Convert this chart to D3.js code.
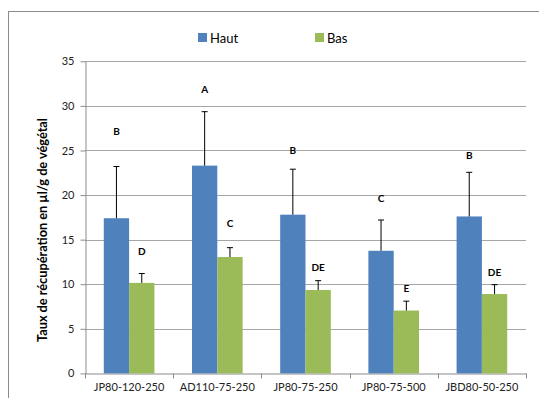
<!DOCTYPE html>
<html>
<head>
<meta charset="utf-8">
<script src="https://cdn.jsdelivr.net/npm/d3@7"></script>
<style>
  html, body { margin: 0; padding: 0; background: #fff; }
  svg { display: block; font-family: Lato, "Open Sans", sans-serif; }
</style>
</head>
<body>
<svg id="chart" width="539" height="398"></svg>
<script>
// Recovery rate per treatment, upper (Haut) and lower (Bas) parts
const categories = ["JP80-120-250", "AD110-75-250", "JP80-75-250", "JP80-75-500", "JBD80-50-250"];
const seriesNames = ["Haut", "Bas"];
const hautValues = [17.4, 23.3, 17.8, 13.75, 17.6];
const basValues  = [10.15, 13.05, 9.35, 7.05, 8.9];
const hautErrors = [5.8, 6.05, 5.1, 3.45, 4.95];
const basErrors  = [1.05, 1.05, 1.05, 1.05, 1.05];
const hautLetters = ["B", "A", "B", "C", "B"];
const basLetters  = ["D", "C", "DE", "E", "DE"];
// height (in axis units) at which each significance letter sits
const hautLetterLevel = [26.7, 31.4, 24.6, 19.2, 24.0];
const basLetterLevel  = [13.3, 16.4, 11.5, 9.1, 10.9];
const yTicks = [0, 5, 10, 15, 20, 25, 30, 35];
const yLabel = "Taux de récupération en µl/g de végétal";

const colors = { Haut: "#4f81bd", Bas: "#9bbb59" };
const svg = d3.select("#chart");

// outer frame
svg.append("rect")
  .attr("x", 8.5).attr("y", 11.5).attr("width", 540).attr("height", 400)
  .attr("fill", "none").attr("stroke", "#8c8c8c").attr("stroke-width", 1);

const plot = { left: 85, right: 526, top: 61.3, bottom: 373.4 };

const y = d3.scaleLinear().domain([0, 35]).range([plot.bottom, plot.top]);
const x0 = d3.scaleBand().domain(categories).range([plot.left, plot.right]).padding(0);
const bw = x0.bandwidth();
const groupW = bw * 0.574;
const x1 = d3.scaleBand().domain(seriesNames)
  .range([(bw - groupW) / 2, (bw + groupW) / 2]).padding(0);

// gridlines
svg.append("g")
  .selectAll("line").data(yTicks.filter(d => d > 0)).join("line")
  .attr("x1", plot.left).attr("x2", plot.right)
  .attr("y1", d => Math.round(y(d)) + 0.5).attr("y2", d => Math.round(y(d)) + 0.5)
  .attr("stroke", "#a6a6a6").attr("stroke-width", 1);

// y axis
const yAxis = svg.append("g")
  .attr("transform", `translate(${plot.left + 0.5},0)`)
  .call(d3.axisLeft(y).tickValues(yTicks).tickSize(5).tickPadding(6).tickSizeOuter(0));
yAxis.select(".domain").attr("stroke", "#8c8c8c");
yAxis.selectAll(".tick line").attr("stroke", "#8c8c8c");
yAxis.selectAll("text").attr("font-size", 11).attr("fill", "#222")
  .attr("font-family", "Lato, 'Open Sans', sans-serif");

// x axis
const xAxis = svg.append("g")
  .attr("transform", `translate(0,${Math.round(plot.bottom) + 0.5})`)
  .call(d3.axisBottom(x0).tickSize(0).tickPadding(10));
xAxis.select(".domain").attr("stroke", "#8c8c8c");
xAxis.selectAll("text").attr("font-size", 11).attr("fill", "#222")
  .attr("font-family", "Lato, 'Open Sans', sans-serif");
// category separators
svg.append("g").selectAll("line")
  .data(d3.range(categories.length + 1)).join("line")
  .attr("x1", i => Math.round(plot.left + i * bw) + 0.5)
  .attr("x2", i => Math.round(plot.left + i * bw) + 0.5)
  .attr("y1", plot.bottom).attr("y2", plot.bottom + 5)
  .attr("stroke", "#8c8c8c");

const rows = categories.map((c, i) => ({
  cat: c,
  items: [
    { s: "Haut", v: hautValues[i], e: hautErrors[i], l: hautLetters[i], lv: hautLetterLevel[i] },
    { s: "Bas", v: basValues[i], e: basErrors[i], l: basLetters[i], lv: basLetterLevel[i] }
  ]
}));

const groups = svg.append("g").selectAll("g").data(rows).join("g")
  .attr("transform", d => `translate(${x0(d.cat)},0)`);

// bars
groups.selectAll("rect").data(d => d.items).join("rect")
  .attr("x", d => x1(d.s)).attr("width", x1.bandwidth())
  .attr("y", d => y(d.v)).attr("height", d => y(0) - y(d.v))
  .attr("fill", d => colors[d.s]);

// upper error bars
const eb = groups.selectAll("g.err").data(d => d.items).join("g").attr("class", "err");
eb.append("line")
  .attr("x1", d => x1(d.s) + x1.bandwidth() / 2).attr("x2", d => x1(d.s) + x1.bandwidth() / 2)
  .attr("y1", d => y(d.v)).attr("y2", d => y(d.v + d.e))
  .attr("stroke", "#000").attr("stroke-width", 1);
eb.append("line")
  .attr("x1", d => x1(d.s) + x1.bandwidth() / 2 - 3).attr("x2", d => x1(d.s) + x1.bandwidth() / 2 + 3)
  .attr("y1", d => y(d.v + d.e)).attr("y2", d => y(d.v + d.e))
  .attr("stroke", "#000").attr("stroke-width", 1);

// significance letters
groups.selectAll("text.sig").data(d => d.items).join("text").attr("class", "sig")
  .attr("x", d => x1(d.s) + x1.bandwidth() / 2)
  .attr("y", d => y(d.lv))
  .attr("text-anchor", "middle")
  .attr("font-size", 10).attr("font-weight", "bold").attr("fill", "#000")
  .text(d => d.l);

// legend
const legendX = [198, 315];
const leg = svg.append("g").selectAll("g").data(seriesNames).join("g")
  .attr("transform", (d, i) => `translate(${legendX[i]},33)`);
leg.append("rect").attr("width", 9).attr("height", 9).attr("fill", d => colors[d]);
leg.append("text").attr("x", 12).attr("y", 9.5)
  .attr("font-size", 13).attr("fill", "#000").text(d => d);

// y axis title
svg.append("text")
  .attr("transform", "translate(47,230) rotate(-90)")
  .attr("text-anchor", "middle")
  .attr("font-size", 13).attr("font-weight", "bold").attr("fill", "#000")
  .attr("textLength", 224).attr("lengthAdjust", "spacingAndGlyphs")
  .text(yLabel);
</script>
</body>
</html>
